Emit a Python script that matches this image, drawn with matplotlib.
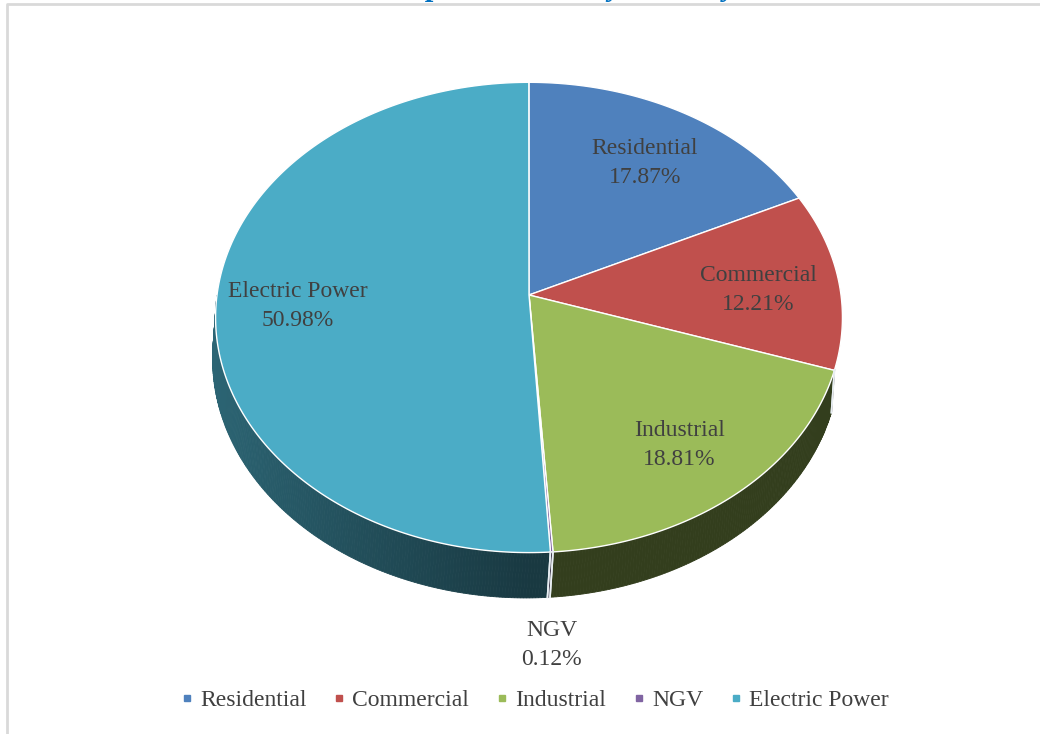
import numpy as np
import matplotlib
matplotlib.use("Agg")
import matplotlib.pyplot as plt
from matplotlib.lines import Line2D
from matplotlib.colors import to_rgb

# Share of natural gas consumption by sector (%)
sectors = ["Residential", "Commercial", "Industrial", "NGV", "Electric Power"]
shares = [17.87, 12.21, 18.81, 0.12, 50.98]
colors = ["#4F81BD", "#C0504D", "#9BBB59", "#8064A2", "#4BACC6"]
title = "Consumption Shares by Industry"

# 3D pie geometry (pixel space): apex, radii, perspective and wall offset
X0, Y0 = 529, 295
A, B = 312, 233
K = 0.0955
DEPTH = 41
SHIFT = -3
WALL_ARC = (-180, -18)   # part of the rim whose wall faces the viewer

FONT = "Liberation Serif"
TXT = "#404040"


def rim(theta, r=1.0, down=0.0):
    t = np.radians(theta)
    u, v = r * np.cos(t), r * np.sin(t)
    w = 1 + K * v
    return X0 + A * u / w + SHIFT * down, Y0 - B * v / w + DEPTH * down / w


fig = plt.figure(figsize=(10.4, 7.34), dpi=100)
ax = fig.add_axes([0, 0, 1, 1])
ax.set_xlim(0, 1040)
ax.set_ylim(734, 0)
ax.axis("off")

# chart frame
ax.plot([6.5, 6.5, 1040], [734, 3.5, 3.5], color="#D9D9D9", lw=2, clip_on=False)

ax.text(529, -4.5, title, ha="center", va="baseline", fontsize=22,
        fontweight="bold", fontstyle="italic", family=FONT, color="#0070C0",
        clip_on=False)

edges = 90 - np.concatenate([[0], np.cumsum(shares)]) * 3.6

# front side walls, shaded in thin strips
for i, c in enumerate(colors):
    hi, lo = min(edges[i], WALL_ARC[1]), max(edges[i + 1], WALL_ARC[0])
    if lo >= hi:
        continue
    base = np.array(to_rgb(c))
    steps = np.linspace(hi, lo, max(2, int((hi - lo) * 2) + 1))
    for a0, a1 in zip(steps[:-1], steps[1:]):
        mid = np.radians((a0 + a1) / 2)
        f = 0.33 + 0.26 * max(0, -np.cos(mid))
        xs0, ys0 = rim(np.array([a0, a1]))
        xs1, ys1 = rim(np.array([a1, a0]), down=1)
        ax.fill(np.r_[xs0, xs1], np.r_[ys0, ys1], color=base * f,
                lw=0.6, ec=base * f)
    # seam lines between walls
    for a in (edges[i], edges[i + 1]):
        if WALL_ARC[0] < a < WALL_ARC[1]:
            x0, y0 = rim(a)
            x1, y1 = rim(a, down=1)
            ax.plot([x0, x1], [y0, y1], color="#E8EEF2", lw=1.2)

# top faces
for i, c in enumerate(colors):
    th = np.linspace(edges[i], edges[i + 1], 200)
    xs, ys = rim(th)
    ax.fill(np.r_[X0, xs], np.r_[Y0, ys], color=c, ec="white", lw=1.0)

# data labels
for i, name in enumerate(sectors):
    mid = (edges[i] + edges[i + 1]) / 2
    label = f"{name}\n{shares[i]:.2f}%"
    if shares[i] >= 1:
        x, y = rim(mid, r=0.74)
        y += 6
    else:
        x, _ = rim(mid)
        _, y = rim(mid, down=1)
        y += 48
    ax.text(x, y, label, ha="center", va="center", fontsize=17,
            family=FONT, color=TXT, linespacing=1.5)

handles = [Line2D([], [], marker="s", ls="none", markersize=5,
                  markerfacecolor=c, markeredgecolor=c) for c in colors]
fig.legend(handles, sectors, loc="center", bbox_to_anchor=(535 / 1040, 1 - 700 / 734),
           ncol=5, frameon=False, handlelength=0.5, handletextpad=0.3,
           columnspacing=1.15, prop={"family": FONT, "size": 17},
           labelcolor=TXT)

fig.savefig("out.png", dpi=100)
